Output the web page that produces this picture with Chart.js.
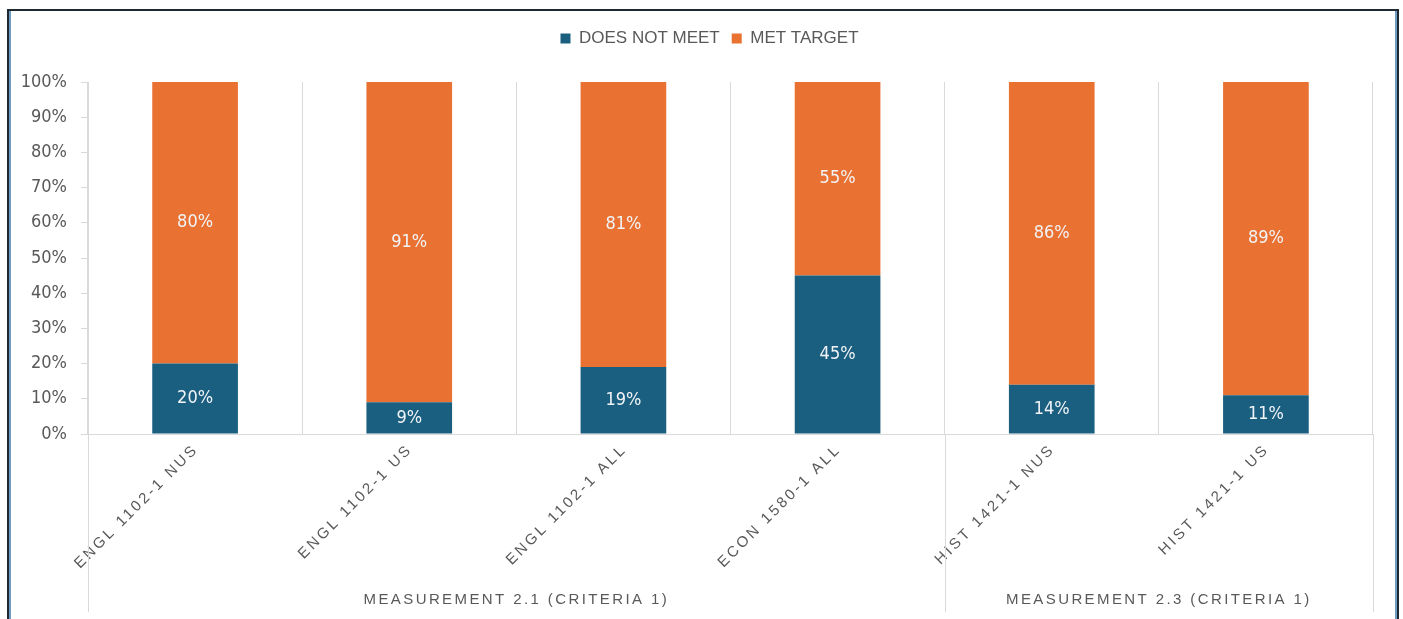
<!DOCTYPE html>
<html>
<head>
<meta charset="utf-8">
<title>Measurement results</title>
<script src="https://cdn.jsdelivr.net/npm/chart.js@4/dist/chart.umd.min.js"></script>
<style>
  html, body { margin: 0; padding: 0; background: #ffffff; overflow: hidden; }
  #frame {
    position: absolute; left: 7px; top: 9px; width: 1388px; height: 700px;
    border: 2px solid #1f2933; border-bottom: none;
    box-shadow: inset 2px 0 0 #6f9cc0, inset -2px 0 0 #6f9cc0;
  }
  #chart { position: absolute; left: 0; top: 0; }
</style>
</head>
<body>
<div id="frame"></div>
<canvas id="chart" width="1403" height="619"></canvas>
<script>
// chart data
const categories = ['ENGL 1102-1 NUS', 'ENGL 1102-1 US', 'ENGL 1102-1 ALL', 'ECON 1580-1 ALL', 'HIST 1421-1 NUS', 'HIST 1421-1 US'];
const doesNotMeet = [20, 9, 19, 45, 14, 11];
const metTarget = [80, 91, 81, 55, 86, 89];
const groupNames = ['MEASUREMENT 2.1 (CRITERIA 1)', 'MEASUREMENT 2.3 (CRITERIA 1)'];
const groupSizes = [4, 2];

const GREY = '#595959';
const LINE = '#d9d9d9';
const NARROW = '"DejaVu Sans", sans-serif';
const REGULAR = '"Liberation Sans", Arial, sans-serif';

// push the plot area down below the legend, and nudge the legend right
const legendGap = {
  id: 'legendGap',
  beforeInit(chart) {
    const legend = chart.legend;
    const fit = legend.fit;
    legend.fit = function () {
      fit.bind(legend)();
      this.height = 64;
    };
    const draw = legend.draw;
    legend.draw = function () {
      const ctx = chart.ctx;
      ctx.save();
      ctx.translate(18, 0);
      draw.bind(legend)();
      ctx.restore();
    };
  }
};

// percent labels in the middle of each segment
const segmentLabels = {
  id: 'segmentLabels',
  afterDatasetsDraw(chart) {
    const ctx = chart.ctx;
    ctx.save();
    ctx.font = 'condensed 18px ' + NARROW;
    ctx.fillStyle = '#f1f4f6';
    ctx.textAlign = 'center';
    ctx.textBaseline = 'middle';
    chart.data.datasets.forEach((ds, di) => {
      chart.getDatasetMeta(di).data.forEach((bar, i) => {
        ctx.fillText(ds.data[i] + '%', bar.x, (bar.y + bar.base) / 2);
      });
    });
    ctx.restore();
  }
};

// rotated category names, group separators and group names
const categoryAxis = {
  id: 'categoryAxis',
  afterDraw(chart) {
    const { ctx, chartArea } = chart;
    const x = chart.scales.x;
    ctx.save();
    ctx.font = '15px ' + REGULAR;
    ctx.letterSpacing = '2.8px';
    ctx.fillStyle = GREY;

    categories.forEach((label, i) => {
      ctx.save();
      ctx.translate(x.getPixelForValue(i) + 1, chartArea.bottom + 13);
      ctx.rotate(-Math.PI / 4);
      ctx.textAlign = 'right';
      ctx.textBaseline = 'middle';
      ctx.fillText(label, 0, 0);
      ctx.restore();
    });

    ctx.letterSpacing = '2.4px';
    ctx.strokeStyle = LINE;
    ctx.lineWidth = 1;
    let start = 0;
    const edges = [x.getPixelForValue(-0.5)];
    groupNames.forEach((name, g) => {
      const left = x.getPixelForValue(start - 0.5);
      const right = x.getPixelForValue(start + groupSizes[g] - 0.5);
      edges.push(right);
      ctx.textAlign = 'center';
      ctx.textBaseline = 'middle';
      ctx.fillText(name, (left + right) / 2, 600);
      start += groupSizes[g];
    });
    edges.forEach(px => {
      const p = Math.round(px) + 0.5;
      ctx.beginPath();
      ctx.moveTo(p, chartArea.bottom);
      ctx.lineTo(p, 612);
      ctx.stroke();
    });
    ctx.restore();
  }
};

new Chart(document.getElementById('chart'), {
  type: 'bar',
  data: {
    labels: categories,
    datasets: [
      {
        label: 'DOES NOT MEET',
        data: doesNotMeet,
        backgroundColor: '#1a5e80',
        categoryPercentage: 1,
        barPercentage: 0.4
      },
      {
        label: 'MET TARGET',
        data: metTarget,
        backgroundColor: '#e97132',
        categoryPercentage: 1,
        barPercentage: 0.4
      }
    ]
  },
  options: {
    responsive: false,
    animation: false,
    devicePixelRatio: 1,
    layout: { padding: { left: 10, right: 30, top: 18, bottom: 0 } },
    plugins: {
      legend: {
        position: 'top',
        labels: {
          boxWidth: 10,
          boxHeight: 10,
          padding: 12,
          color: GREY,
          font: { family: REGULAR, size: 17 }
        }
      },
      tooltip: { enabled: false }
    },
    scales: {
      x: {
        stacked: true,
        offset: true,
        ticks: { display: false },
        grid: { offset: true, color: LINE, drawTicks: false },
        border: { color: LINE },
        afterFit(scale) { scale.height = 185; }
      },
      y: {
        stacked: true,
        min: 0,
        max: 100,
        ticks: {
          stepSize: 10,
          padding: 14,
          color: GREY,
          font: { family: NARROW, size: 18, weight: 'condensed' },
          callback: v => v + '%'
        },
        grid: { drawOnChartArea: false, color: LINE, tickLength: 7 },
        border: { color: LINE },
        afterFit(scale) { scale.width = 78; }
      }
    }
  },
  plugins: [legendGap, segmentLabels, categoryAxis]
});
</script>
</body>
</html>
